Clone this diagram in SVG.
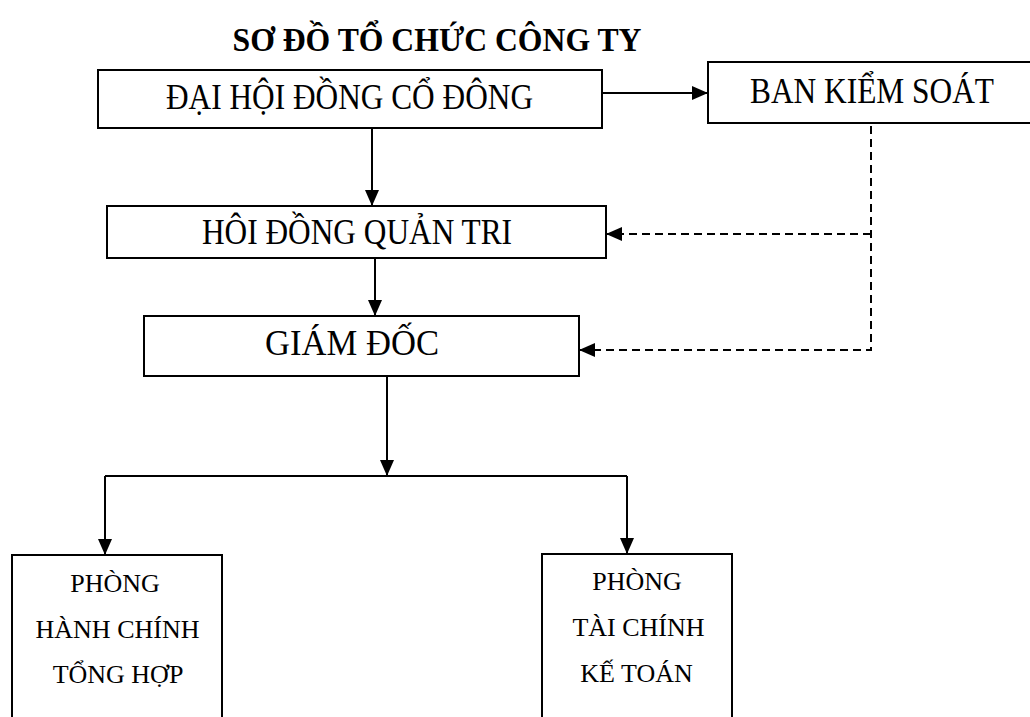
<svg xmlns="http://www.w3.org/2000/svg" width="1030" height="717" viewBox="0 0 1030 717">
<style>
.box{fill:#fff;stroke:#000;stroke-width:2}
.t{font-family:"Liberation Serif",serif;font-size:35px;fill:#000;text-anchor:middle}
.s{font-family:"Liberation Serif",serif;font-size:26px;fill:#000;text-anchor:middle}
.title{font-family:"Liberation Serif",serif;font-size:34px;font-weight:bold;fill:#000;text-anchor:middle}
.ln{fill:none;stroke:#000;stroke-width:2}
.dash{fill:none;stroke:#000;stroke-width:2;stroke-dasharray:8,5}
</style>
<defs>
<marker id="ah" viewBox="0 0 16 14" refX="16" refY="7" markerWidth="16" markerHeight="14" markerUnits="userSpaceOnUse" orient="auto">
<path d="M0,0 L16,7 L0,14 Z" fill="#000"/>
</marker>
</defs>
<text class="title" x="437" y="51" textLength="409" lengthAdjust="spacingAndGlyphs">SƠ ĐỒ TỔ CHỨC CÔNG TY</text>
<g id="connectors">
<line class="ln" x1="602" y1="93" x2="708" y2="93" marker-end="url(#ah)"/>
<line class="ln" x1="372" y1="128" x2="372" y2="206" marker-end="url(#ah)"/>
<line class="ln" x1="375" y1="258" x2="375" y2="316" marker-end="url(#ah)"/>
<line class="ln" x1="387" y1="376" x2="387" y2="476" marker-end="url(#ah)"/>
<polyline class="ln" points="105,476 627,476"/>
<line class="ln" x1="105" y1="476" x2="105" y2="555" marker-end="url(#ah)"/>
<line class="ln" x1="627" y1="476" x2="627" y2="554" marker-end="url(#ah)"/>
<polyline class="dash" points="871,126 871,350 579,350" marker-end="url(#ah)"/>
<line class="dash" x1="871" y1="234" x2="606" y2="234" marker-end="url(#ah)"/>
</g>
<g id="dhdcd">
<rect class="box" x="98" y="70" width="504" height="58"/>
<text class="t" x="349.5" y="109" textLength="367" lengthAdjust="spacingAndGlyphs">ĐẠI HỘI ĐỒNG CỔ ĐÔNG</text>
</g>
<g id="bks">
<rect class="box" x="708" y="62" width="330" height="61"/>
<text class="t" x="872" y="103" textLength="244" lengthAdjust="spacingAndGlyphs">BAN KIỂM SOÁT</text>
</g>
<g id="hdqt">
<rect class="box" x="107" y="206" width="499" height="52"/>
<text class="t" x="357" y="244" textLength="310" lengthAdjust="spacingAndGlyphs">HÔI ĐỒNG QUẢN TRI</text>
</g>
<g id="gd">
<rect class="box" x="144" y="316" width="435" height="60"/>
<text class="t" x="352" y="355" textLength="174" lengthAdjust="spacingAndGlyphs">GIÁM ĐỐC</text>
</g>
<g id="phcth">
<rect class="box" x="12" y="555" width="210" height="170"/>
<text class="s" x="115" y="592">PHÒNG</text>
<text class="s" x="117.5" y="638">HÀNH CHÍNH</text>
<text class="s" x="118" y="683">TỔNG HỢP</text>
</g>
<g id="ptckt">
<rect class="box" x="542" y="554" width="190" height="171"/>
<text class="s" x="637" y="590">PHÒNG</text>
<text class="s" x="638.5" y="636">TÀI CHÍNH</text>
<text class="s" x="636.5" y="682">KẾ TOÁN</text>
</g>
</svg>
